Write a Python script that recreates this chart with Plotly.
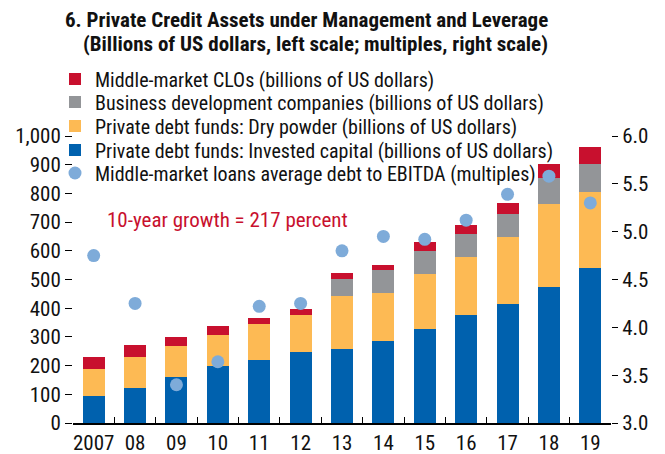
import plotly.graph_objects as go

years = ["2007", "08", "09", "10", "11", "12", "13", "14", "15", "16", "17", "18", "19"]
invested = [95, 123, 161, 199, 220, 248, 258, 286, 328, 377, 415, 474, 540]
dry_powder = [94, 108, 108, 108, 125, 129, 185, 167, 191, 201, 233, 288, 264]
bdc = [0, 0, 0, 0, 0, 0, 59, 80, 80, 80, 80, 91, 97]
clo = [42, 41, 31, 31, 21, 20, 21, 17, 31, 31, 38, 48, 60]
leverage = [4.75, 4.25, 3.40, 3.64, 4.22, 4.25, 4.80, 4.95, 4.92, 5.12, 5.39, 5.58, 5.30]

left_ticks = [0, 100, 200, 300, 400, 500, 600, 700, 800, 900, 1000]
left_labels = ["0", "100", "200", "300", "400", "500", "600", "700", "800", "900", "1,000"]

FONT = "Roboto Condensed, Archivo Narrow, sans-serif"
BLUE = "#0061AE"
ORANGE = "#FDBA54"
GRAY = "#939598"
RED = "#C8102E"
DOT = "#7EABD9"
TXT = "#111111"

# the page body adds an 8px margin; the figure is sized/positioned to compensate
OFF = 8
W, H = 665 - OFF, 454 - OFF
# plot area in page pixels: x 73..611, y 136..423
X0, X1, Y0, Y1 = 73, 611, 136, 423
L, R, T, B = X0 - OFF, W - (X1 - OFF), Y0 - OFF, H - (Y1 - OFF)
PW, PH = X1 - X0, Y1 - Y0


def px(xp):
    return (xp - X0) / PW


def py(yp):
    return (Y1 - yp) / PH


fig = go.Figure()
fig.add_trace(go.Bar(x=years, y=invested, name="Private debt funds: Invested capital (billions of US dollars)",
                     marker=dict(color=BLUE, line=dict(width=0)), legend="legend4"))
fig.add_trace(go.Bar(x=years, y=dry_powder, name="Private debt funds: Dry powder (billions of US dollars)",
                     marker=dict(color=ORANGE, line=dict(width=0)), legend="legend3"))
fig.add_trace(go.Bar(x=years, y=bdc, name="Business development companies (billions of US dollars)",
                     marker=dict(color=GRAY, line=dict(width=0)), legend="legend2"))
fig.add_trace(go.Bar(x=years, y=clo, name="Middle-market CLOs (billions of US dollars)",
                     marker=dict(color=RED, line=dict(width=0)), legend="legend"))
fig.add_trace(go.Scatter(x=years, y=leverage, yaxis="y2", mode="markers",
                         name="Middle-market loans average debt to EBITDA (multiples)",
                         marker=dict(color=DOT, size=13, line=dict(width=0)), legend="legend5"))

legend_rows = [79, 102, 126, 150, 173]


def leg(row_y):
    return dict(x=px(55), y=py(row_y), xanchor="left", yanchor="middle",
                bgcolor="rgba(0,0,0,0)", font=dict(family=FONT, size=20, color=TXT),
                itemsizing="trace")


fig.update_layout(
    width=W, height=H,
    margin=dict(l=L, r=R, t=T, b=B, pad=0, autoexpand=False),
    paper_bgcolor="white", plot_bgcolor="white",
    barmode="stack", bargap=0.47,
    font=dict(family=FONT, size=21, color=TXT),
    showlegend=True,
    legend=leg(legend_rows[0]),
    legend2=leg(legend_rows[1]),
    legend3=leg(legend_rows[2]),
    legend4=leg(legend_rows[3]),
    legend5=leg(legend_rows[4]),
    xaxis=dict(type="category", showgrid=False, showline=True, linecolor="black", linewidth=1.5,
               ticks="inside", ticklen=6, tickwidth=1.2, tickcolor="black", tickson="boundaries",
               tickfont=dict(size=21), tickangle=0, range=[-0.5, 12.5]),
    yaxis=dict(range=[0, 1000], tickvals=left_ticks, ticktext=left_labels, showgrid=False,
               zeroline=False, showline=False, ticks="outside", ticklen=7, tickwidth=1.2,
               tickcolor="black", tickfont=dict(size=21)),
    yaxis2=dict(range=[3, 6], dtick=0.5, tickformat=".1f", overlaying="y", side="right",
                showgrid=False, zeroline=False, showline=False, ticks="outside", ticklen=6,
                tickwidth=1.2, tickcolor="black", tickfont=dict(size=21)),
    annotations=[
        dict(text="<b>6. Private Credit Assets under Management and Leverage</b>",
             xref="paper", yref="paper", x=px(550), y=py(20),
             xanchor="right", yanchor="middle", showarrow=False,
             font=dict(family=FONT, size=21, color=TXT)),
        dict(text="<b>(Billions of US dollars, left scale; multiples, right scale)</b>",
             xref="paper", yref="paper", x=px(550), y=py(44),
             xanchor="right", yanchor="middle", showarrow=False,
             font=dict(family=FONT, size=21, color=TXT)),
        dict(text="10-year growth = 217 percent",
             xref="paper", yref="paper", x=px(105), y=py(220),
             xanchor="left", yanchor="middle", showarrow=False,
             font=dict(family=FONT, size=21, color=RED)),
    ],
)

fig.write_html("out.html")
